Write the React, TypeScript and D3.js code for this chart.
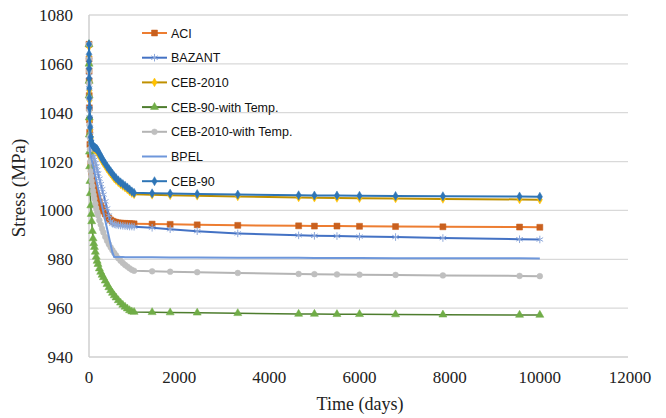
import React from "react";
import * as d3 from "d3";

// Time axis (days) shared by every series
const times = [0, 1, 2, 3, 5, 7, 10, 14, 20, 28, 40, 50, 60, 75, 90, 105, 120, 140, 160, 180, 200, 230, 260, 290, 320, 360, 400, 440, 480, 520, 560, 600, 650, 700, 750, 800, 850, 900, 950, 1000, 1400, 1800, 2400, 3300, 4650, 5000, 5500, 6000, 6800, 7850, 9550, 10000];

// Stress (MPa) per model
const aci = [1068, 1062, 1057, 1053, 1047, 1042, 1037, 1032, 1027, 1023, 1019, 1017, 1015.5, 1013.5, 1012, 1010.5, 1009.5, 1008, 1007, 1006, 1005, 1003.5, 1002, 1000.8, 999.7, 998.6, 997.6, 996.8, 996.1, 995.6, 995.3, 995.1, 994.9, 994.8, 994.7, 994.7, 994.6, 994.6, 994.5, 994.5, 994.4, 994.3, 994.1, 993.9, 993.7, 993.6, 993.6, 993.5, 993.4, 993.3, 993.2, 993.1];
const bazant = [1068, 1063, 1059, 1055, 1050, 1046, 1042, 1038, 1034, 1031, 1028, 1026.5, 1025, 1024, 1023, 1021.9, 1020.8, 1019.4, 1018, 1016.5, 1015.1, 1013, 1010.8, 1008.7, 1006.5, 1003.7, 1000.8, 997.9, 995.5, 994.6, 994.3, 994.1, 993.9, 993.8, 993.7, 993.6, 993.5, 993.4, 993.4, 993.3, 992.9, 992.3, 991.5, 990.6, 989.8, 989.6, 989.5, 989.3, 989.1, 988.7, 988.2, 988.1];
const ceb2010 = [1067, 1063, 1060, 1057, 1053, 1049, 1045, 1041, 1037, 1033, 1029.5, 1028, 1027, 1026.3, 1025.8, 1025.4, 1025.1, 1024.8, 1024.5, 1024.1, 1023.4, 1022.4, 1021.4, 1020.4, 1019.4, 1018.3, 1017.1, 1016.1, 1015.1, 1014.1, 1013.1, 1012.4, 1011.5, 1010.7, 1010, 1009.3, 1008.6, 1007.8, 1007.1, 1006.6, 1006.4, 1006.2, 1006, 1005.7, 1005.3, 1005.2, 1005.1, 1005, 1004.9, 1004.7, 1004.5, 1004.4];
const ceb90Temp = [1068, 1060, 1053, 1047, 1038, 1031, 1024, 1018, 1012, 1007, 1002, 998.5, 995.5, 991.5, 988.5, 986.5, 985, 983, 981, 979.3, 978, 976.2, 974.8, 973.6, 972.6, 971.2, 969.8, 968.5, 967.3, 966.2, 965.2, 964.3, 963.2, 962.2, 961.3, 960.5, 959.8, 959.1, 958.6, 958.4, 958.3, 958.2, 958.1, 957.9, 957.6, 957.6, 957.5, 957.5, 957.4, 957.3, 957.2, 957.2];
const ceb2010Temp = [1068, 1062, 1057, 1052, 1046, 1041, 1035, 1030, 1025, 1020, 1016, 1014, 1012, 1010, 1008, 1006.3, 1004.7, 1002.8, 1001, 999.4, 998, 996, 994.2, 992.5, 991, 989.2, 987.6, 986.2, 984.9, 983.7, 982.6, 981.6, 980.4, 979.4, 978.5, 977.7, 977, 976.3, 975.7, 975.3, 975.1, 974.9, 974.7, 974.4, 974, 973.9, 973.8, 973.7, 973.6, 973.4, 973.2, 973.1];
const bpel = [1068, 1063, 1058, 1054, 1048, 1043, 1038, 1033, 1025, 1023.3, 1022.3, 1021.5, 1020.7, 1019.5, 1018.2, 1017, 1015.7, 1014.1, 1012.4, 1010.8, 1009.1, 1006.6, 1004.2, 1001.7, 999.2, 995.9, 992.6, 989.3, 986, 982.7, 980.9, 980.9, 980.9, 980.9, 980.9, 980.8, 980.8, 980.8, 980.8, 980.8, 980.8, 980.7, 980.7, 980.6, 980.6, 980.5, 980.5, 980.5, 980.4, 980.4, 980.4, 980.3];
const ceb90 = [1068, 1064, 1061, 1058, 1054, 1050, 1046, 1042, 1038, 1034, 1030, 1028.5, 1027.5, 1026.8, 1026.3, 1026, 1025.8, 1025.6, 1025.3, 1025, 1024.3, 1023.3, 1022.3, 1021.3, 1020.3, 1019.2, 1018, 1017, 1016, 1015, 1014, 1013.2, 1012.3, 1011.5, 1010.8, 1010.1, 1009.4, 1008.6, 1007.8, 1007.2, 1007, 1006.9, 1006.7, 1006.5, 1006.2, 1006.1, 1006.1, 1006, 1005.9, 1005.8, 1005.7, 1005.6];

const seriesNames = ["ACI", "BAZANT", "CEB-2010", "CEB-90-with Temp.", "CEB-2010-with Temp.", "BPEL", "CEB-90"];
const seriesValues = [aci, bazant, ceb2010, ceb90Temp, ceb2010Temp, bpel, ceb90];

const xTicks = [0, 2000, 4000, 6000, 8000, 10000, 12000];
const yTicks = [940, 960, 980, 1000, 1020, 1040, 1060, 1080];

type Style = { line: string; marker: string; shape: string; size: number; width: number };
const styles: Style[] = [
  { line: "#ED7D31", marker: "#C9601E", shape: "square", size: 36, width: 2 },
  { line: "#4472C4", marker: "#8EA9DB", shape: "asterisk", size: 40, width: 2 },
  { line: "#BF9000", marker: "#FFC000", shape: "diamond", size: 22, width: 2 },
  { line: "#4E7D2E", marker: "#70AD47", shape: "triangle", size: 28, width: 1.5 },
  { line: "#B4B4B4", marker: "#BFBFBF", shape: "circle", size: 26, width: 2 },
  { line: "#6E97DB", marker: "#6E97DB", shape: "none", size: 0, width: 2 },
  { line: "#2E75B6", marker: "#2E75B6", shape: "diamond", size: 24, width: 2 },
];

const W = 666;
const H = 418;
const plot = { left: 89, right: 630, top: 15, bottom: 357 };

const symbolFor = (shape: string) => {
  switch (shape) {
    case "square": return d3.symbolSquare;
    case "diamond": return d3.symbolDiamond;
    case "triangle": return d3.symbolTriangle;
    case "circle": return d3.symbolCircle;
    case "asterisk": return d3.symbolAsterisk;
    default: return null;
  }
};

function Marker({ s, x, y }: { s: Style; x: number; y: number }) {
  const type = symbolFor(s.shape);
  if (!type) return null;
  const d = d3.symbol().type(type).size(s.size)() as string;
  if (s.shape === "asterisk") {
    return <path d={d} transform={`translate(${x},${y})`} fill="none" stroke={s.marker} strokeWidth={1} />;
  }
  return <path d={d} transform={`translate(${x},${y})`} fill={s.marker} stroke={s.marker} strokeWidth={0.5} />;
}

export default function App() {
  const x = d3.scaleLinear().domain([0, 12000]).range([plot.left, plot.right]);
  const y = d3.scaleLinear().domain([940, 1080]).range([plot.bottom, plot.top]);
  const line = d3.line<number>().x((_, i) => x(times[i])).y((v) => y(v));

  const legendX = 142;
  const legendY0 = 33;
  const legendStep = 24.7;

  return (
    <svg width={W} height={H} style={{ position: "absolute", left: 0, top: 0, background: "#fff" }}>
      {/* grid */}
      {yTicks.slice(1).map((t) => (
        <line key={t} x1={plot.left} x2={plot.right - 2} y1={y(t)} y2={y(t)} stroke="#D9D9D9" strokeWidth={1.3} />
      ))}
      {/* axes */}
      <line x1={plot.left} x2={plot.left} y1={plot.top} y2={plot.bottom} stroke="#CFCFCF" strokeWidth={1.5} />
      <line x1={plot.left} x2={plot.right - 2} y1={plot.bottom} y2={plot.bottom} stroke="#CFCFCF" strokeWidth={1.5} />

      {/* tick labels */}
      <g fontFamily="'Liberation Serif', 'Times New Roman', serif" fontSize={17} fill="#222">
        {yTicks.map((t) => (
          <text key={t} x={plot.left - 16} y={y(t)} dy="0.35em" textAnchor="end">{t}</text>
        ))}
        {xTicks.map((t) => (
          <text key={t} x={x(t)} y={383} textAnchor="middle">{t}</text>
        ))}
      </g>
      <text x={360} y={410} textAnchor="middle" fontFamily="'Liberation Serif', 'Times New Roman', serif" fontSize={18} fill="#222">Time (days)</text>
      <text transform={`translate(25,188) rotate(-90)`} textAnchor="middle" fontFamily="'Liberation Serif', 'Times New Roman', serif" fontSize={19} fill="#222">Stress (MPa)</text>

      {/* series */}
      {seriesValues.map((vals, si) => {
        const s = styles[si];
        return (
          <g key={seriesNames[si]}>
            <path d={line(vals) as string} fill="none" stroke={s.line} strokeWidth={s.width} strokeLinejoin="round" />
            {vals.map((v, i) => (
              <Marker key={i} s={s} x={x(times[i])} y={y(v)} />
            ))}
          </g>
        );
      })}

      {/* legend */}
      <g fontFamily="'Liberation Sans', Arial, sans-serif" fontSize={12.5} fill="#111">
        {seriesNames.map((name, i) => {
          const s = styles[i];
          const ly = legendY0 + i * legendStep;
          return (
            <g key={name}>
              <line x1={legendX} x2={legendX + 25} y1={ly} y2={ly} stroke={s.line} strokeWidth={2} />
              <Marker s={s} x={legendX + 12.5} y={ly} />
              <text x={legendX + 29} y={ly} dy="0.36em">{name}</text>
            </g>
          );
        })}
      </g>
    </svg>
  );
}
